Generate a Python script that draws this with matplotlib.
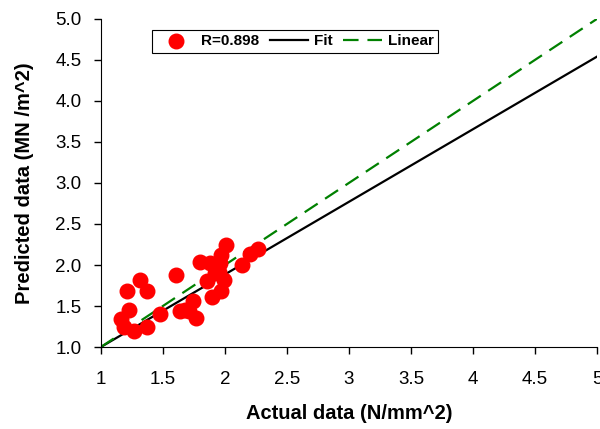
import matplotlib
matplotlib.use("Agg")
import matplotlib.pyplot as plt
import numpy as np

plt.rcParams['font.family'] = ['Liberation Sans', 'DejaVu Sans']

actual = [1.16, 1.19, 1.27, 1.23, 1.21, 1.32, 1.37, 1.37, 1.48, 1.61,
          1.64, 1.68, 1.71, 1.74, 1.77, 1.80, 1.88, 1.86, 1.90, 1.92,
          1.95, 1.96, 1.97, 1.97, 1.99, 2.01, 2.14, 2.20, 2.27]
predicted = [1.34, 1.25, 1.19, 1.45, 1.68, 1.82, 1.68, 1.24, 1.40, 1.88,
             1.44, 1.45, 1.44, 1.56, 1.35, 2.04, 2.03, 1.80, 1.61, 1.90,
             1.92, 2.02, 2.12, 1.68, 1.82, 2.24, 2.00, 2.13, 2.20]

r_value = 0.898
fit_slope = 0.885
fit_intercept = 0.115

x_line = np.array([1.0, 5.0])

fig = plt.figure(figsize=(6, 4.29), dpi=100)
ax = fig.add_axes([0.168, 0.191, 0.827, 0.765])

ax.scatter(actual, predicted, s=110, color='#ff0000', zorder=3, label=f'R={r_value}')
ax.plot(x_line, fit_slope * x_line + fit_intercept, color='black', lw=1.6, label='Fit')
ax.plot(x_line, x_line, color='#008000', lw=1.6, dashes=(7, 4), label='Linear')

ax.set_xlim(1, 5)
ax.set_ylim(1, 5)
ax.set_xticks(np.arange(1, 5.01, 0.5))
ax.set_xticklabels(['1', '1.5', '2', '2.5', '3', '3.5', '4', '4.5', '5'])
ax.set_yticks(np.arange(1, 5.01, 0.5))
ax.yaxis.set_major_formatter(matplotlib.ticker.FormatStrFormatter('%.1f'))
ax.tick_params(direction='out', length=5, width=1, labelsize=13.5)
ax.tick_params(axis='x', pad=12)
ax.tick_params(axis='y', pad=9)
ax.spines['top'].set_visible(False)
ax.spines['right'].set_visible(False)

ax.set_xlabel('Actual data (N/mm^2)', fontsize=14.5, fontweight='bold', labelpad=12)
ax.set_ylabel('Predicted data (MN /m^2)', fontsize=14.5, fontweight='bold', labelpad=15)

leg = ax.legend(ncol=3, loc='upper left', bbox_to_anchor=(0.088, 0.99),
                prop={'weight': 'bold', 'size': 11}, fancybox=False,
                edgecolor='black', framealpha=1, handlelength=2.5,
                columnspacing=0.7, handletextpad=0.4, borderpad=0.3,
                scatterpoints=1)
leg.get_frame().set_linewidth(0.8)

fig.savefig('out.png', dpi=100)
